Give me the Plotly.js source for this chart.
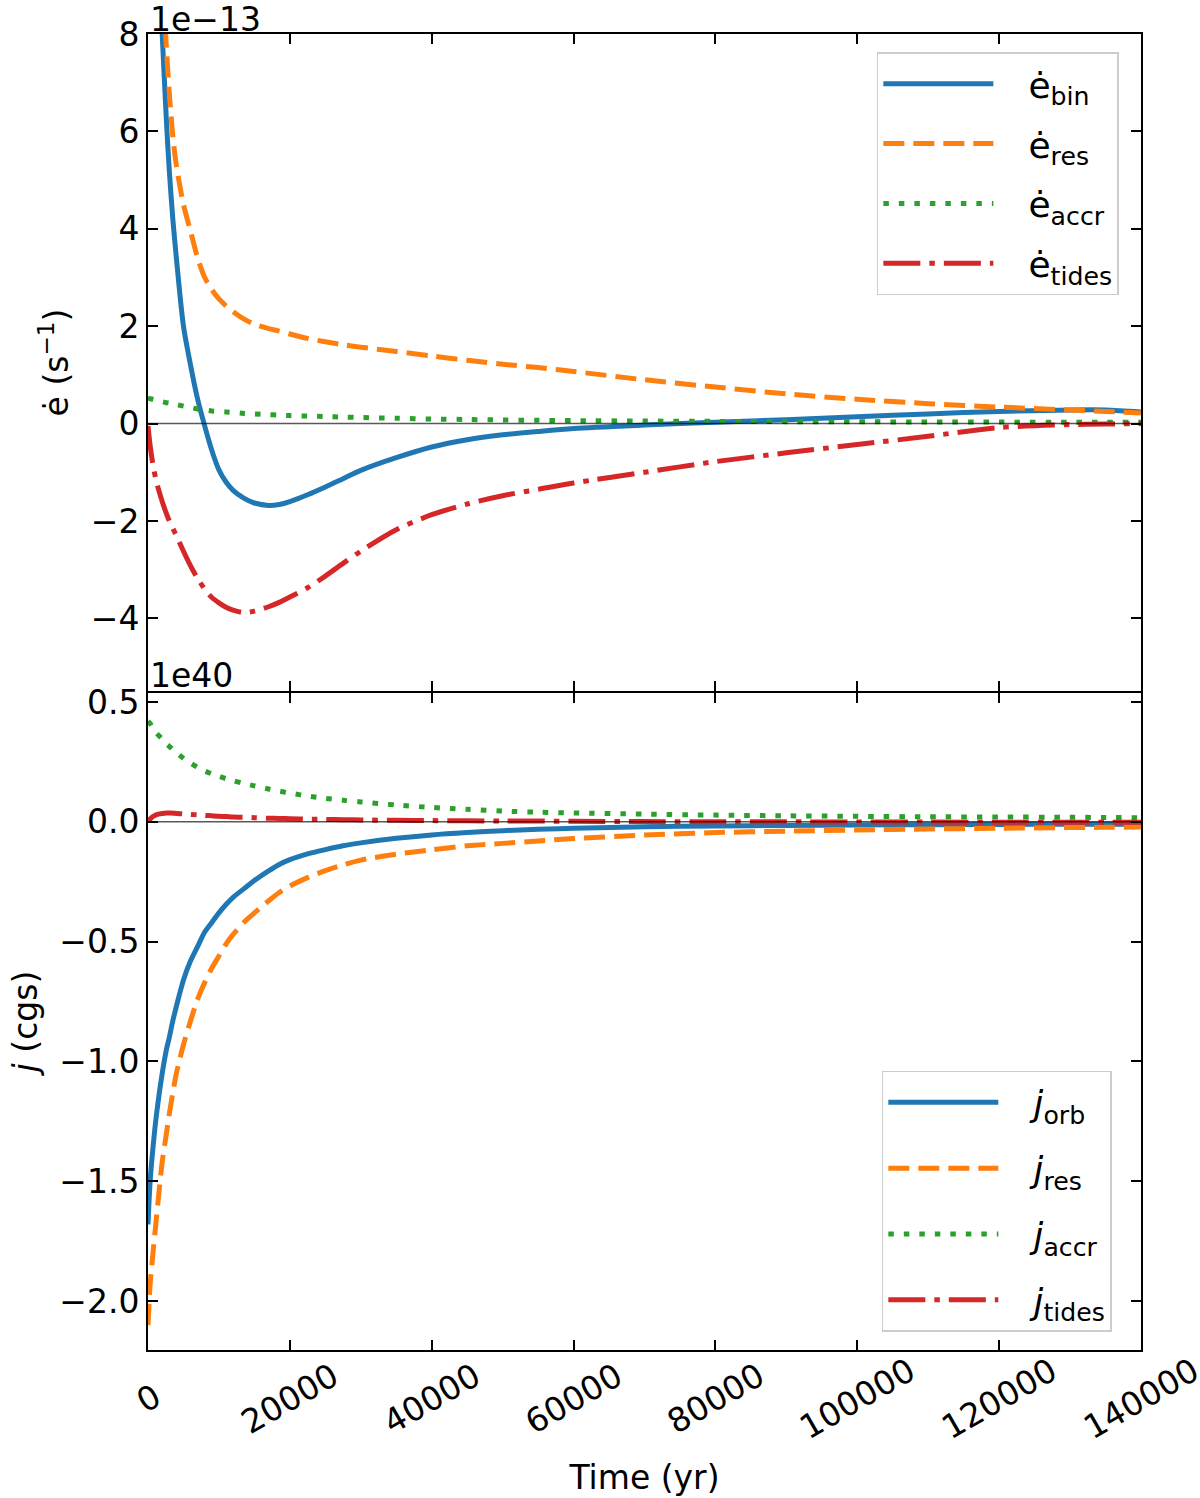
<!DOCTYPE html>
<html>
<head>
<meta charset="utf-8">
<script src="https://cdn.plot.ly/plotly-3.0.1.min.js"></script>
<style>body{margin:0;background:#fff}</style>
</head>
<body>
<div id="chart" style="width:1200px;height:1498px"></div>
<script>
// time in yr, shared by every curve
var time = [0, 300, 700, 1200, 2000, 2600, 3000, 3500, 4000, 5000,
  6000, 7000, 8000, 9000, 10000, 11000, 12000, 13500, 15000, 17000,
  18500, 20000, 22500, 25000, 27500, 30000, 35000, 40000, 45000, 50000,
  55000, 60000, 70000, 80000, 90000, 100000, 110000, 120000, 130000, 135000, 140000];

// e-dot terms, units of 1e-13 s^-1
var eBin = [14, 13, 12, 10.5, 8.0, 6.2, 5.2, 4.2, 3.4, 2.0,
  1.2, 0.5, -0.05, -0.55, -0.95, -1.2, -1.37, -1.53, -1.63, -1.68,
  -1.66, -1.6, -1.46, -1.3, -1.13, -0.96, -0.7, -0.48, -0.33, -0.23,
  -0.16, -0.1, -0.03, 0.03, 0.08, 0.14, 0.2, 0.25, 0.28, 0.28, 0.24];
var eRes = [18, 16, 14, 12, 9.3, 7.7, 6.8, 5.9, 5.3, 4.5,
  3.95, 3.4, 3.0, 2.75, 2.56, 2.42, 2.3, 2.15, 2.04, 1.95,
  1.9, 1.84, 1.75, 1.68, 1.62, 1.57, 1.48, 1.39, 1.3, 1.22,
  1.15, 1.07, 0.9, 0.75, 0.61, 0.5, 0.41, 0.34, 0.28, 0.25, 0.22];
var eAccr = [0.52, 0.51, 0.5, 0.48, 0.45, 0.43, 0.42, 0.4, 0.39, 0.36,
  0.33, 0.3, 0.28, 0.26, 0.25, 0.24, 0.23, 0.21, 0.2, 0.185,
  0.175, 0.165, 0.155, 0.145, 0.135, 0.125, 0.11, 0.095, 0.085, 0.075,
  0.068, 0.062, 0.053, 0.046, 0.041, 0.037, 0.034, 0.031, 0.029, 0.028, 0.027];
var eTides = [-0.05, -0.45, -0.85, -1.2, -1.6, -1.85, -2.0, -2.15, -2.3, -2.62,
  -2.92, -3.18, -3.4, -3.57, -3.68, -3.77, -3.83, -3.88, -3.85, -3.76,
  -3.67, -3.56, -3.37, -3.13, -2.87, -2.62, -2.18, -1.87, -1.65, -1.48,
  -1.35, -1.22, -1.0, -0.78, -0.6, -0.43, -0.26, -0.08, -0.02, -0.01, 0.0];

// j-dot terms, units of 1e40 cgs
var jOrb = [-1.68, -1.5, -1.36, -1.22, -1.05, -0.95, -0.9, -0.83, -0.77, -0.66,
  -0.58, -0.52, -0.46, -0.42, -0.38, -0.345, -0.315, -0.28, -0.245, -0.205,
  -0.178, -0.158, -0.134, -0.116, -0.1, -0.088, -0.069, -0.055, -0.045, -0.037,
  -0.031, -0.027, -0.021, -0.017, -0.015, -0.013, -0.012, -0.011, -0.01, -0.01, -0.01];
var jRes = [-2.1, -1.93, -1.8, -1.65, -1.42, -1.3, -1.22, -1.13, -1.05, -0.93,
  -0.83, -0.74, -0.67, -0.61, -0.56, -0.51, -0.47, -0.42, -0.38, -0.33,
  -0.295, -0.268, -0.233, -0.204, -0.18, -0.16, -0.135, -0.117, -0.1, -0.09,
  -0.08, -0.07, -0.055, -0.045, -0.039, -0.034, -0.03, -0.027, -0.024, -0.023, -0.022];
var jAccr = [0.42, 0.41, 0.39, 0.37, 0.345, 0.325, 0.315, 0.3, 0.29, 0.265,
  0.245, 0.227, 0.212, 0.2, 0.19, 0.18, 0.172, 0.16, 0.15, 0.137,
  0.128, 0.12, 0.108, 0.098, 0.09, 0.083, 0.07, 0.06, 0.052, 0.045,
  0.04, 0.037, 0.032, 0.028, 0.025, 0.023, 0.021, 0.02, 0.019, 0.018, 0.017];
var jTides = [0, 0.012, 0.022, 0.03, 0.035, 0.037, 0.037, 0.036, 0.035, 0.033,
  0.031, 0.029, 0.027, 0.025, 0.023, 0.022, 0.02, 0.019, 0.017, 0.015,
  0.014, 0.013, 0.011, 0.01, 0.009, 0.008, 0.006, 0.005, 0.004, 0.003,
  0.003, 0.002, 0.001, 0, 0, -0.001, -0.001, -0.002, -0.002, -0.002, -0.002];

var xTicks = [0, 20000, 40000, 60000, 80000, 100000, 120000, 140000];
var pad = '\u00a0\u00a0\u2009';
var eNames = ['ė<sub>bin</sub>', 'ė<sub>res</sub>', 'ė<sub>accr</sub>', 'ė<sub>tides</sub>'];
var jNames = ['<i>ȷ̇</i><sub>orb</sub>', '<i>ȷ̇</i><sub>res</sub>', '<i>ȷ̇</i><sub>accr</sub>', '<i>ȷ̇</i><sub>tides</sub>'];

var colors = ['#1f77b4', '#ff7f0e', '#2ca02c', '#d62728'];
var dashes = ['solid', '21px,9px', '5.5px,10px', '37px,9px,5.5px,9px'];
var font = 'DejaVu Sans, sans-serif';
var fs = 33;

var traces = [];
[eBin, eRes, eAccr, eTides].forEach(function(y, i) {
  traces.push({
    x: time, y: y, name: pad + eNames[i], type: 'scatter', mode: 'lines',
    xaxis: 'x', yaxis: 'y', legend: 'legend', legendgroup: 'e' + i,
    line: {color: colors[i], width: 5, dash: dashes[i], shape: 'spline', smoothing: 0.8}
  });
});
[jOrb, jRes, jAccr, jTides].forEach(function(y, i) {
  traces.push({
    x: time, y: y, name: pad + jNames[i], type: 'scatter', mode: 'lines',
    xaxis: 'x2', yaxis: 'y2', legend: 'legend2', legendgroup: 'j' + i,
    line: {color: colors[i], width: 5, dash: dashes[i], shape: 'spline', smoothing: 0.8}
  });
});

function frame(extra) {
  var a = {
    showline: true, mirror: 'ticks', linecolor: '#000', linewidth: 2,
    ticks: 'inside', ticklen: 10, tickwidth: 2, tickcolor: '#000',
    showgrid: false, zeroline: false,
    tickfont: {family: font, size: fs, color: '#000'}
  };
  for (var k in extra) a[k] = extra[k];
  return a;
}

// rotated time labels, centred under each tick like the original
var annotations = xTicks.map(function(v) {
  return {
    x: v, xref: 'x2', y: 0, yref: 'paper', yshift: -48,
    text: String(v), showarrow: false, textangle: -30,
    xanchor: 'center', yanchor: 'middle',
    font: {family: font, size: fs, color: '#000'}
  };
});
annotations.push({
  x: 0, xref: 'x domain', y: 1, yref: 'y domain', yshift: -7,
  text: '1e−13', showarrow: false, xanchor: 'left', yanchor: 'bottom',
  font: {family: font, size: fs, color: '#000'}
});
annotations.push({
  x: 0, xref: 'x2 domain', y: 1, yref: 'y2 domain', yshift: -4,
  text: '1e40', showarrow: false, xanchor: 'left', yanchor: 'bottom',
  font: {family: font, size: fs, color: '#000'}
});

var legendStyle = {
  bgcolor: 'rgba(255,255,255,0.8)', bordercolor: '#cccccc', borderwidth: 1.5,
  font: {family: font, size: 36, color: '#000'}, itemwidth: 110
};

var half = 1 / 1316;
var layout = {
  width: 1200, height: 1498,
  margin: {l: 148, r: 59, t: 34, b: 148},
  paper_bgcolor: '#fff', plot_bgcolor: '#fff',
  font: {family: font, size: fs, color: '#000'},
  xaxis: frame({range: [0, 140000], tickvals: xTicks, showticklabels: false, anchor: 'y', matches: 'x2'}),
  xaxis2: frame({range: [0, 140000], tickvals: xTicks, showticklabels: false, anchor: 'y2',
    title: {text: 'Time (yr)', standoff: 115, font: {family: font, size: fs}}}),
  yaxis: frame({domain: [0.5 + half, 1], range: [-5.49, 8], dtick: 2, anchor: 'x',
    title: {text: 'ė (s<sup>−1</sup>)', standoff: 12, font: {family: font, size: fs}}}),
  yaxis2: frame({domain: [0, 0.5 - half], range: [-2.204, 0.5375], dtick: 0.5, tickformat: '.1f', anchor: 'x2',
    title: {text: '<i>ȷ̇</i> (cgs)', standoff: 12, font: {family: font, size: fs}}}),
  legend: Object.assign({x: 0.734, y: 0.986, xanchor: 'left', yanchor: 'top', tracegroupgap: 10}, legendStyle),
  legend2: Object.assign({x: 0.739, y: 0.0137, xanchor: 'left', yanchor: 'bottom', tracegroupgap: 16}, legendStyle),
  shapes: [
    {type: 'line', xref: 'x domain', x0: 0, x1: 1, yref: 'y', y0: 0, y1: 0, layer: 'above',
      line: {color: 'rgba(0,0,0,0.65)', width: 1.5}},
    {type: 'line', xref: 'x2 domain', x0: 0, x1: 1, yref: 'y2', y0: 0, y1: 0, layer: 'above',
      line: {color: 'rgba(0,0,0,0.65)', width: 1.5}}
  ],
  annotations: annotations,
  showlegend: true
};

Plotly.newPlot('chart', traces, layout, {staticPlot: true});
</script>
</body>
</html>
